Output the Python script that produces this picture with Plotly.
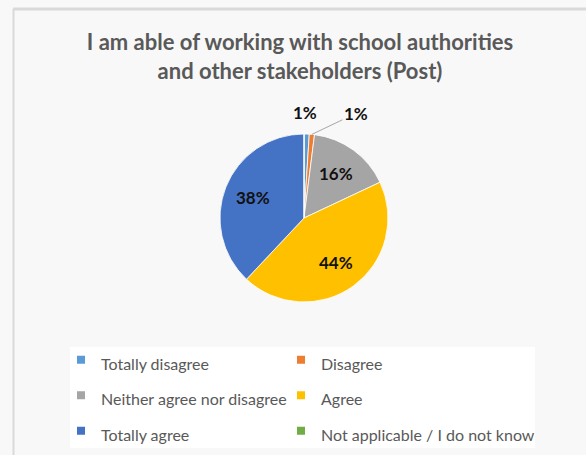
import math
import plotly.graph_objects as go

categories = ["Totally disagree", "Disagree", "Neither agree nor disagree",
              "Agree", "Totally agree", "Not applicable / I do not know"]
values = [1, 1, 16, 44, 38, 0]
colors = ["#5B9BD5", "#ED7D31", "#A5A5A5", "#FFC000", "#4472C4", "#70AD47"]
# where each percentage goes: outside above, outside with leader, inside, or nothing
label_kind = ["top", "leader", "in", "in", "in", "none"]

W, H = 586, 455
cx, cy, r = 304, 218, 84

fig = go.Figure()

fig.add_trace(go.Pie(
    labels=categories, values=values, sort=False, direction="clockwise",
    rotation=0, showlegend=False, textinfo="none",
    marker=dict(colors=colors, line=dict(color="white", width=0.8)),
    domain=dict(x=[(cx - r) / W, (cx + r) / W],
                y=[1 - (cy + r) / H, 1 - (cy - r) / H]),
    hoverinfo="label+percent",
))

# percentage labels, placed along each slice's mid angle
total = sum(values)
lab_font = dict(size=17, color="#111111", family="Lato")
annots = []
cum = 0
for v, kind in zip(values, label_kind):
    ang = math.radians((cum + v / 2) / total * 360)
    cum += v
    if kind == "none":
        continue
    txt = f"<b>{round(v / total * 100)}%</b>"
    d = r * 0.65 if kind == "in" else r
    px = cx + d * math.sin(ang)
    py = cy - d * math.cos(ang)
    a = dict(x=px / W, y=1 - py / H, xref="paper", yref="paper", text=txt, font=lab_font)
    if kind == "top":
        a.update(showarrow=False, yanchor="bottom", yshift=9, xshift=-2)
    elif kind == "leader":
        a.update(showarrow=True, arrowhead=0, arrowwidth=1, arrowcolor="#a6a6a6",
                 ax=44, ay=-21, standoff=0)
    else:
        a.update(showarrow=False)
    annots.append(a)

# legend entries (two columns -> two legends)
for i, (name, col) in enumerate(zip(categories, colors)):
    fig.add_trace(go.Scatter(
        x=[None], y=[None], mode="markers", name=f'<span style="font-size:16px">{name}</span>',
        marker=dict(symbol="square", size=8, color=col),
        legend="legend" if i % 2 == 0 else "legend2",
    ))

leg = dict(orientation="v", yanchor="top", xanchor="left", itemwidth=30,
           bgcolor="rgba(0,0,0,0)", font=dict(size=25, color="#595959", family="Lato"))

fig.update_layout(
    width=W, height=H,
    margin=dict(l=0, r=0, t=0, b=0),
    paper_bgcolor="#f8f8f8", plot_bgcolor="rgba(0,0,0,0)",
    font=dict(family="Lato", color="#595959"),
    title=dict(text="I am able of working with school authorities<br>and other stakeholders (Post)",
               x=300 / W, xanchor="center", y=1 - 50 / H, yanchor="top",
               font=dict(size=22, color="#595959", family="Lato", weight="bold")),
    xaxis=dict(visible=False, domain=[0, 1]),
    yaxis=dict(visible=False, domain=[0, 1]),
    legend=dict(leg, x=61 / W, y=1 - 337 / H),
    legend2=dict(leg, x=281 / W, y=1 - 337 / H),
    annotations=annots,
    shapes=[
        dict(type="rect", xref="paper", yref="paper", x0=70 / W, x1=535 / W,
             y0=1 - 448 / H, y1=1 - 347 / H, fillcolor="white", line=dict(width=0), layer="below"),
        dict(type="line", xref="paper", yref="paper", x0=13 / W, x1=1, y0=1 - 9 / H, y1=1 - 9 / H,
             line=dict(color="#d9d9d9", width=3)),
        dict(type="line", xref="paper", yref="paper", x0=13.5 / W, x1=13.5 / W, y0=0, y1=1 - 9 / H,
             line=dict(color="#d9d9d9", width=2)),
    ],
)

fig.write_html("out.html", config={"displayModeBar": False},
               post_script="document.body.style.margin='0px';")
